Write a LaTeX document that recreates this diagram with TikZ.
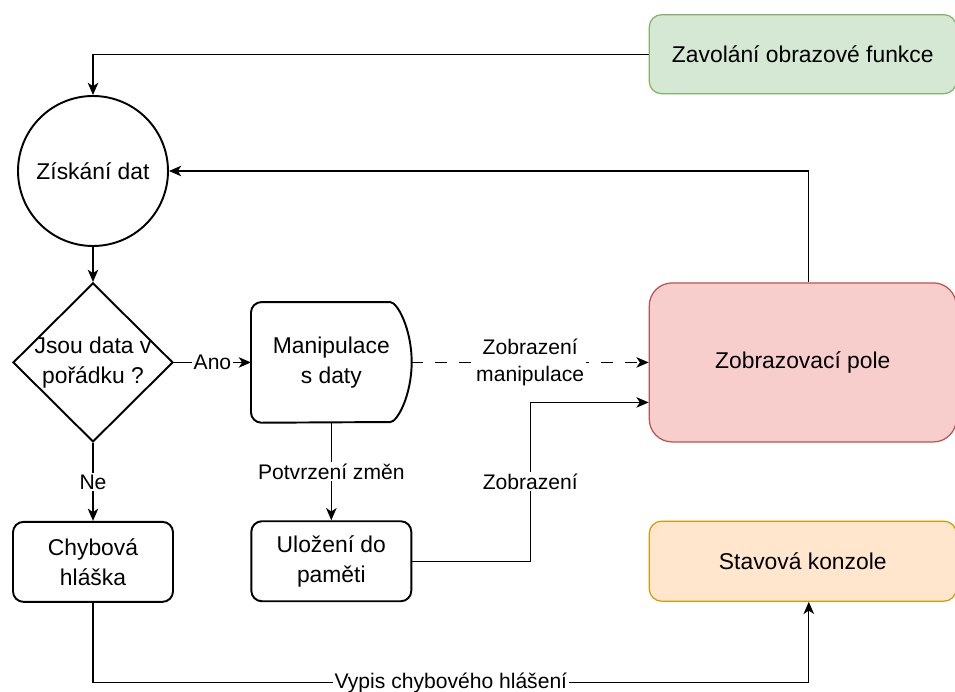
\documentclass[tikz,border=0pt]{standalone}
\usepackage{fontspec}
\setmainfont{Liberation Sans}
\usepackage{tikz}
\usetikzlibrary{arrows.meta,positioning,calc,shapes.geometric}
\newcommand{\boxfont}{\fontsize{13}{17}\selectfont}
\newcommand{\edgefont}{\fontsize{12}{15.4}\selectfont}
\definecolor{clrG}{RGB}{130,179,102}
\definecolor{bgG}{RGB}{213,232,212}
\definecolor{clrR}{RGB}{184,84,80}
\definecolor{bgR}{RGB}{248,206,204}
\definecolor{clrO}{RGB}{215,155,0}
\definecolor{bgO}{RGB}{255,230,204}
\tikzset{
  process/.style={rectangle,rounded corners=6pt,draw=black,line width=1.1pt,
    fill=white,minimum width=3.2cm,minimum height=1.6cm,align=center,
    font=\boxfont,inner sep=2pt},
  start/.style={circle,draw=black,line width=1.1pt,fill=white,
    minimum size=3cm,font=\boxfont,inner sep=2pt},
  decision/.style={diamond,draw=black,line width=1.1pt,fill=white,
    minimum width=3.2cm,minimum height=3.18cm,inner sep=0pt},
  panel/.style={rectangle,rounded corners=7pt,line width=0.7pt,
    minimum width=6.14cm,minimum height=1.6cm,align=center,font=\boxfont},
  label text/.style={font=\boxfont,align=center,inner sep=0pt},
  lbl/.style={fill=white,font=\edgefont,align=center,inner sep=1pt},
  conn/.style={-{Stealth[length=7pt,width=6pt,inset=2pt]},line width=0.7pt}
}

\begin{document}
\begin{tikzpicture}
  \fill[white] (0,0) rectangle (19.1,13.82);
  \useasboundingbox (0,0) rectangle (19.1,13.82);

  \node[start] (ziskani) at (1.86,10.40) {Získání dat};
  \node[decision,below=0.7cm of ziskani] (check) {};
  \node[label text] (checktext) at (check) {Jsou data v\\pořádku ?};

  \node[rectangle,minimum width=3.2cm,minimum height=2.4cm,align=center,
    font=\boxfont,right=1.54cm of check] (manip) {Manipulace\\s daty};
  \draw[line width=1.1pt,rounded corners=6pt]
    ([xshift=-0.64cm]manip.north east)
    arc[start angle=90,end angle=-90,x radius=0.64cm,y radius=1.2cm]
    -- (manip.south west) -- (manip.north west) -- cycle;

  \node[panel,draw=clrR,fill=bgR,minimum height=3.18cm,rounded corners=13pt,
    right=4.74cm of manip] (pole) {Zobrazovací pole};
  \node[panel,draw=clrG,fill=bgG,minimum height=1.58cm,above=3.76cm of pole]
    (zavolani) {Zavolání obrazové funkce};

  \node[process,below=1.56cm of check] (chybova) {Chybová\\hláška};
  \node[process,below=1.95cm of manip] (ulozeni) {Uložení do\\paměti};
  \node[panel,draw=clrO,fill=bgO,below=1.56cm of pole] (stav) {Stavová konzole};

  \draw[conn] (zavolani.west) -| (ziskani.north);
  \draw[conn] ([xshift=0.12cm]pole.north) |- (ziskani.east);
  \draw[conn] (ziskani.south) -- (check.north);
  \draw[conn] (check.east) -- node[lbl] {Ano} (manip.west);
  \draw[conn] (check.south) -- node[lbl] {Ne} (chybova.north);
  \draw[conn] (manip.south) -- node[lbl] {Potvrzení změn} (ulozeni.north);
  \draw[conn,dash pattern=on 6.5pt off 7pt] (manip.east)
    -- node[lbl] {Zobrazení\\manipulace} (pole.west);

  \coordinate (zbend) at ([xshift=2.36cm]ulozeni.east);
  \draw[conn] (ulozeni.east) -- (zbend)
    |- node[lbl,pos=0.25] {Zobrazení} ([yshift=-0.8cm]pole.west);

  \coordinate (vypis) at ([yshift=-1.6cm]chybova.south);
  \draw[conn] (chybova.south) -- (vypis)
    -| node[lbl,pos=0.25] {Vypis chybového hlášení} ([xshift=0.12cm]stav.south);
\end{tikzpicture}
\end{document}
